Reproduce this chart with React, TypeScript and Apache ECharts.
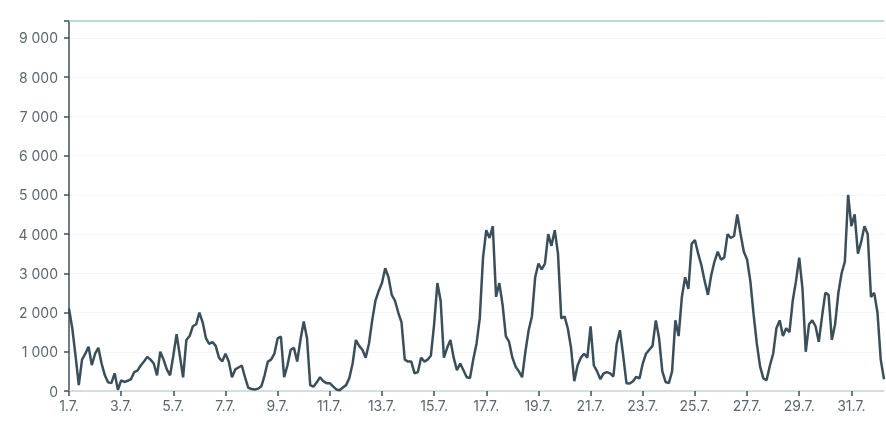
import React, { useEffect, useRef } from "react";
import * as echarts from "echarts";

// 3-hourly readings starting 1.7. 00:00
const stepHours = 3;
const values: number[] = [
  // 1.7.
  2100, 1600, 900, 150, 800, 950, 1130, 660,
  // 2.7.
  950, 1100, 700, 400, 220, 200, 450, 30,
  // 3.7.
  270, 230, 260, 300, 480, 520, 650, 750,
  // 4.7.
  870, 800, 700, 400, 1000, 800, 550, 400,
  // 5.7.
  900, 1450, 900, 350, 1300, 1400, 1650, 1700,
  // 6.7.
  2000, 1750, 1350, 1200, 1250, 1150, 850, 750,
  // 7.7.
  950, 750, 350, 550, 600, 650, 350, 80,
  // 8.7.
  50, 40, 60, 120, 400, 750, 800, 950,
  // 9.7.
  1340, 1385, 350, 650, 1050, 1100, 750, 1300,
  // 10.7.
  1770, 1350, 150, 110, 220, 350, 250, 200,
  // 11.7.
  200, 120, 40, 20, 90, 150, 330, 700,
  // 12.7.
  1300, 1150, 1050, 850, 1200, 1800, 2300, 2550,
  // 13.7.
  2750, 3130, 2900, 2450, 2300, 2000, 1750, 800,
  // 14.7.
  750, 750, 450, 480, 850, 750, 800, 900,
  // 15.7.
  1700, 2750, 2300, 850, 1100, 1300, 850, 530,
  // 16.7.
  700, 530, 350, 330, 800, 1200, 1850, 3400,
  // 17.7.
  4100, 3900, 4200, 2400, 2750, 2200, 1400, 1250,
  // 18.7.
  850, 620, 500, 350, 1000, 1550, 1900, 2900,
  // 19.7.
  3250, 3100, 3250, 4000, 3700, 4100, 3500, 1850,
  // 20.7.
  1900, 1600, 1100, 250, 650, 850, 950, 850,
  // 21.7.
  1650, 650, 500, 300, 450, 480, 450, 370,
  // 22.7.
  1200, 1550, 900, 200, 190, 250, 360, 320,
  // 23.7.
  700, 950, 1050, 1150, 1800, 1350, 500, 230,
  // 24.7.
  200, 500, 1800, 1400, 2400, 2900, 2600, 3750,
  // 25.7.
  3850, 3500, 3200, 2800, 2450, 2950, 3300, 3550,
  // 26.7.
  3350, 3400, 4000, 3900, 3950, 4500, 4000, 3550,
  // 27.7.
  3350, 2800, 1950, 1200, 620, 320, 280, 650,
  // 28.7.
  950, 1600, 1800, 1400, 1600, 1500, 2300, 2800,
  // 29.7.
  3400, 2600, 1000, 1700, 1800, 1650, 1250, 1900,
  // 30.7.
  2500, 2450, 1300, 1700, 2500, 3000, 3300, 5000,
  // 31.7.
  4200, 4500, 3500, 3800, 4200, 4000, 2400, 2500,
  // 1.8.
  2000, 800, 300,
];

const xTickHours: number[] = [0, 48, 96, 144, 192, 240, 288, 336, 384, 432, 480, 528, 576, 624, 672, 720];
const yTickValues: number[] = [0, 1000, 2000, 3000, 4000, 5000, 6000, 7000, 8000, 9000];
const yMax = 9430;
const xMaxHours = 750;

const fmtThousands = (v: number) => String(Math.round(v)).replace(/\B(?=(\d{3})+(?!\d))/g, " ");

export default function App() {
  const ref = useRef<HTMLDivElement>(null);
  useEffect(() => {
    if (!ref.current) return;
    const chart = echarts.init(ref.current, undefined, { renderer: "svg" });
    const data = values.map((v, i) => [i * stepHours, v]);
    chart.setOption({
      animation: false,
      textStyle: { fontFamily: "Inter" },
      grid: { left: 69, right: 2, top: 21, bottom: 46, containLabel: false },
      xAxis: [
        {
          type: "value",
          min: 0,
          max: xMaxHours,
          interval: 48,
          axisLine: { show: true, lineStyle: { color: "#c8d5da", width: 1.5 } },
          axisTick: { show: true, length: 5, customValues: xTickHours, lineStyle: { color: "#3d4f5a", width: 1.5 } },
          axisLabel: {
            customValues: xTickHours,
            margin: 7,
            color: "#5a6770",
            fontSize: 14,
            fontFamily: "Inter",
            formatter: (v: number) => `${Math.round(v / 24) + 1}.7.`,
          },
          splitLine: { show: false },
        },
        {
          type: "value",
          position: "top",
          min: 0,
          max: 1,
          axisLine: { show: true, lineStyle: { color: "#9fd6d4", width: 1.5 } },
          axisTick: { show: false },
          axisLabel: { show: false },
          splitLine: { show: false },
        },
      ],
      yAxis: {
        type: "value",
        min: 0,
        max: yMax,
        interval: 1000,
        axisLine: { show: true, lineStyle: { color: "#3d4f5a", width: 1.5 } },
        axisTick: { show: true, length: 5, customValues: [...yTickValues, yMax], lineStyle: { color: "#3d4f5a", width: 1.5 } },
        axisLabel: {
          customValues: yTickValues,
          margin: 11,
          color: "#5a6770",
          fontSize: 14,
          fontFamily: "Inter",
          formatter: (v: number) => fmtThousands(v),
        },
        splitLine: { show: true, lineStyle: { color: "#f3f5f6", width: 1 } },
      },
      series: [
        {
          type: "line",
          xAxisIndex: 0,
          data,
          showSymbol: false,
          symbol: "none",
          lineStyle: { color: "#3b4f5b", width: 2.5 },
        },
      ],
    });
    return () => chart.dispose();
  }, []);
  return <div ref={ref} style={{ position: "fixed", left: 0, top: 0, width: 886, height: 437 }} />;
}
